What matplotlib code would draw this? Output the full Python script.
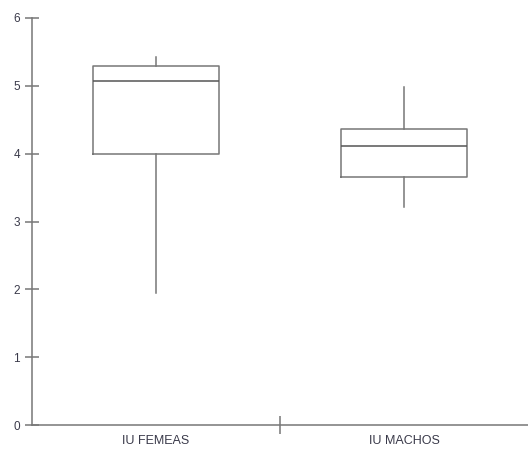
import matplotlib
matplotlib.use("Agg")
import matplotlib.pyplot as plt

categories = ["IU FEMEAS", "IU MACHOS"]
whislo = [1.95, 3.22]
q1 = [4.00, 3.66]
med = [5.07, 4.12]
q3 = [5.29, 4.37]
whishi = [5.43, 4.99]
yticks = [0, 1, 2, 3, 4, 5, 6]

plt.rcParams['font.family'] = ['Liberation Sans', 'DejaVu Sans']
gray = '#777777'

fig = plt.figure(figsize=(5.28, 4.53), dpi=100)
ax = fig.add_axes([32/528, 28/453, 1 - 32/528, (425 - 18)/453])

stats = []
for i, c in enumerate(categories):
    stats.append(dict(label=c, whislo=whislo[i], q1=q1[i], med=med[i],
                      q3=q3[i], whishi=whishi[i], fliers=[]))

ax.bxp(stats, positions=[0, 1], widths=0.51, showcaps=False,
       boxprops=dict(color=gray, linewidth=1.1),
       whiskerprops=dict(color=gray, linewidth=1.1),
       medianprops=dict(color='#555555', linewidth=1.1))

ax.set_xlim(-0.5, 1.5)
ax.set_ylim(0, 6)
ax.set_yticks(yticks)
ax.set_xticks([0, 1])
ax.set_xticklabels(categories)
ax.set_xticks([0.5], minor=True)
ax.tick_params(axis='x', which='major', length=0, pad=7, labelsize=9, labelcolor='#3a3a4a')
ax.tick_params(axis='x', which='minor', direction='inout', length=13, width=1.1, color=gray)
ax.tick_params(axis='y', direction='inout', length=9.5, width=1.1, color=gray,
               labelsize=8.5, labelcolor='#3a3a4a', pad=4)
for s in ['top', 'right']:
    ax.spines[s].set_visible(False)
for s in ['left', 'bottom']:
    ax.spines[s].set_color(gray)
    ax.spines[s].set_linewidth(1.1)

fig.savefig("out.png", dpi=100)
